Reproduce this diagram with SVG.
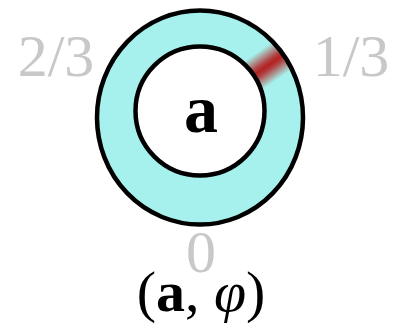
<svg xmlns="http://www.w3.org/2000/svg" width="396" height="333" viewBox="0 0 396 333">
<style>
.lbl{font-family:"Liberation Serif","DejaVu Serif",serif;font-size:60px;fill:#c8c8c8}
.main{font-family:"Liberation Serif","DejaVu Serif",serif;fill:#000}
.ring{stroke:#000;stroke-width:4.5}
</style>
<defs>
<clipPath id="annulus">
<path clip-rule="evenodd" d="M97,117.5 a103,107 0 1,0 206,0 a103,107 0 1,0 -206,0 Z M135.5,111 a64.5,64.5 0 1,0 129,0 a64.5,64.5 0 1,0 -129,0 Z"/>
</clipPath>
<linearGradient id="redband" x1="0" y1="0" x2="1" y2="0">
<stop offset="0" stop-color="#b22222" stop-opacity="0"/>
<stop offset="0.38" stop-color="#b22222" stop-opacity="0.85"/>
<stop offset="0.5" stop-color="#b22222" stop-opacity="1"/>
<stop offset="0.62" stop-color="#b22222" stop-opacity="0.85"/>
<stop offset="1" stop-color="#b22222" stop-opacity="0"/>
</linearGradient>
</defs>
<g id="ring">
<ellipse cx="200" cy="117.5" rx="103" ry="107" fill="#a6f1ed"/>
<g clip-path="url(#annulus)">
<rect x="-17" y="-60" width="34" height="60" fill="url(#redband)" transform="translate(200,113) rotate(55) translate(0,-60)"/>
</g>
<ellipse class="ring" cx="200" cy="117.5" rx="103" ry="107" fill="none"/>
<circle class="ring" cx="200" cy="111" r="64.5" fill="#fff"/>
<text class="main" x="201" y="132" text-anchor="middle" font-size="68" font-weight="bold">a</text>
</g>
<g id="labels">
<text class="lbl" x="56" y="76" text-anchor="middle">2/3</text>
<text class="lbl" x="351" y="76" text-anchor="middle">1/3</text>
<text class="lbl" x="201" y="272" text-anchor="middle">0</text>
<text class="main" x="201" y="311" text-anchor="middle" font-size="58">(<tspan font-weight="bold">a</tspan>, <tspan font-style="italic">φ</tspan>)</text>
</g>
</svg>
